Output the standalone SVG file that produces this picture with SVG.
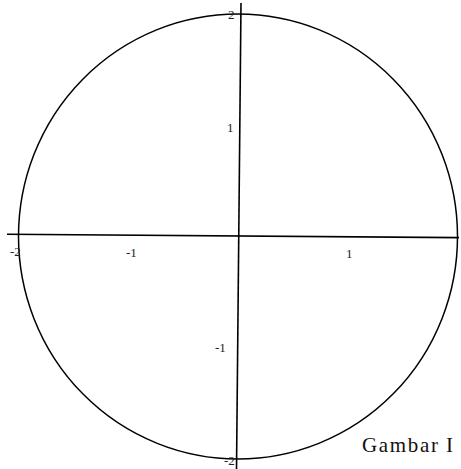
<svg xmlns="http://www.w3.org/2000/svg" width="461" height="469" viewBox="0 0 461 469">
<style>
.ax{stroke:#000;stroke-width:1.6;fill:none}
.cv{stroke:#000;stroke-width:1.5;fill:none}
.lb{font-family:"Liberation Serif","Times New Roman",serif;font-size:13px;fill:#222}
.cap{font-family:"Liberation Serif","Times New Roman",serif;font-size:21px;fill:#111}
</style>
<rect width="461" height="469" fill="#fff"/>
<g id="curve">
<ellipse class="cv" cx="238" cy="236.5" rx="219.5" ry="222.5"/>
</g>
<g id="axes">
<line class="ax" x1="7" y1="234.3" x2="459" y2="237.6"/>
<line class="ax" x1="241" y1="3" x2="236.5" y2="469"/>
</g>
<g id="labels">
<text class="lb" x="228" y="19">2</text>
<text class="lb" x="227" y="132">1</text>
<text class="lb" x="215" y="352">-1</text>
<text class="lb" x="224" y="465">-2</text>
<text class="lb" x="10" y="256">-2</text>
<text class="lb" x="126" y="257">-1</text>
<text class="lb" x="346" y="258">1</text>
</g>
<g id="caption">
<text class="cap" x="362" y="452"><tspan textLength="76" lengthAdjust="spacing">Gambar</tspan><tspan x="446">I</tspan></text>
</g>
</svg>
